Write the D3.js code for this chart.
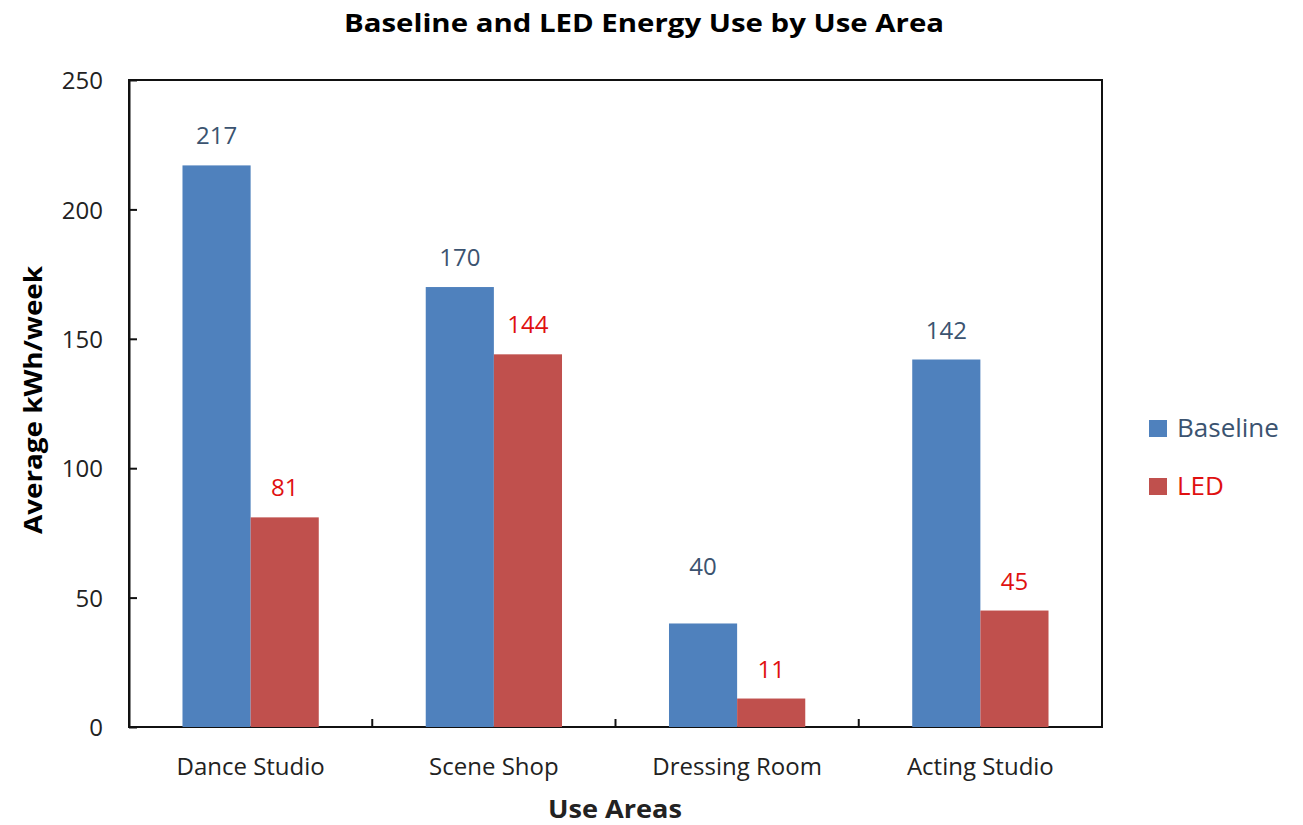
<!DOCTYPE html>
<html><head><meta charset="utf-8">
<script src="https://cdn.jsdelivr.net/npm/d3@7"></script>
<style>body{margin:0;background:#fff;} text{font-family:"Open Sans","Lato",sans-serif;}</style>
</head><body>
<svg id="c" width="1303" height="825"></svg>
<script>
const categories = ["Dance Studio","Scene Shop","Dressing Room","Acting Studio"];
const seriesNames = ["Baseline","LED"];
const baseline = [217,170,40,142];
const led = [81,144,11,45];
const yTicks = [0,50,100,150,200,250];
const colors = {Baseline:"#4F81BD", LED:"#C0504D"};
const labelColors = {Baseline:"#3B5370", LED:"#E01010"};

const svg = d3.select("#c");
const L=129, R=1102, T=80, B=727;
const x = d3.scaleBand().domain(categories).range([L,R]).paddingInner(0).paddingOuter(0);
const xs = d3.scaleBand().domain(seriesNames).range([0,x.bandwidth()]).paddingInner(0).paddingOuter(0.785);
const y = d3.scaleLinear().domain([0,250]).range([B,T]);
const data = {Baseline:baseline, LED:led};
const labelLift = {"Dressing Room|Baseline":27};

// frame
svg.append("rect").attr("x",L).attr("y",T).attr("width",R-L).attr("height",B-T)
  .attr("fill","none").attr("stroke","#111").attr("stroke-width",2);

// y axis (ticks point inward)
const ya = svg.append("g").attr("transform",`translate(${L},0)`)
  .call(d3.axisRight(y).tickValues(yTicks).tickSize(8).tickSizeOuter(0).tickFormat(d3.format("d")));
ya.select(".domain").attr("stroke","#111").attr("stroke-width",2);
ya.selectAll(".tick line").attr("stroke","#111").attr("stroke-width",2);
ya.selectAll(".tick text").attr("x",-26).attr("dy","0.36em").attr("text-anchor","end").attr("font-size",24).attr("fill","#222");

// x axis ticks at category boundaries (pointing up)
const bounds = categories.map(c=>x(c)).slice(1);
svg.append("g").selectAll("line").data(bounds).join("line")
  .attr("x1",d=>d).attr("x2",d=>d).attr("y1",B).attr("y2",B-8).attr("stroke","#111").attr("stroke-width",2);
svg.append("g").selectAll("text").data(categories).join("text")
  .attr("x",d=>x(d)+x.bandwidth()/2).attr("y",B+48).attr("text-anchor","middle")
  .attr("font-size",24).attr("fill","#222").text(d=>d);

// bars
seriesNames.forEach(s=>{
  const g = svg.append("g");
  g.selectAll("rect").data(categories).join("rect")
    .attr("x",(c)=>x(c)+xs(s)).attr("width",xs.bandwidth())
    .attr("y",(c,i)=>y(data[s][i])).attr("height",(c,i)=>B-y(data[s][i]))
    .attr("fill",colors[s]);
  g.selectAll("text").data(categories).join("text")
    .attr("x",(c)=>x(c)+xs(s)+xs.bandwidth()/2)
    .attr("y",(c,i)=>y(data[s][i])-21-(labelLift[c+"|"+s]||0))
    .attr("text-anchor","middle").attr("font-size",24).attr("fill",labelColors[s])
    .text((c,i)=>data[s][i]);
});

// title
svg.append("text").attr("x",644).attr("y",32).attr("text-anchor","middle")
  .attr("font-size",25).attr("font-weight","bold").attr("fill","#000")
  .attr("textLength",600).attr("lengthAdjust","spacingAndGlyphs")
  .text("Baseline and LED Energy Use by Use Area");
// axis titles
svg.append("text").attr("transform","translate(42,400) rotate(-90)").attr("text-anchor","middle")
  .attr("font-size",25).attr("font-weight","bold").attr("fill","#000")
  .attr("textLength",268).attr("lengthAdjust","spacingAndGlyphs").text("Average kWh/week");
svg.append("text").attr("x",615).attr("y",818).attr("text-anchor","middle")
  .attr("font-size",25).attr("font-weight","bold").attr("fill","#222")
  .attr("textLength",134).attr("lengthAdjust","spacingAndGlyphs").text("Use Areas");

// legend
const lg = svg.append("g");
seriesNames.forEach((s,i)=>{
  lg.append("rect").attr("x",1149).attr("y",420+i*58).attr("width",18).attr("height",17).attr("fill",colors[s]);
  lg.append("text").attr("x",1177).attr("y",437+i*58).attr("font-size",26).attr("fill",labelColors[s]).text(s);
});
</script>
</body></html>
